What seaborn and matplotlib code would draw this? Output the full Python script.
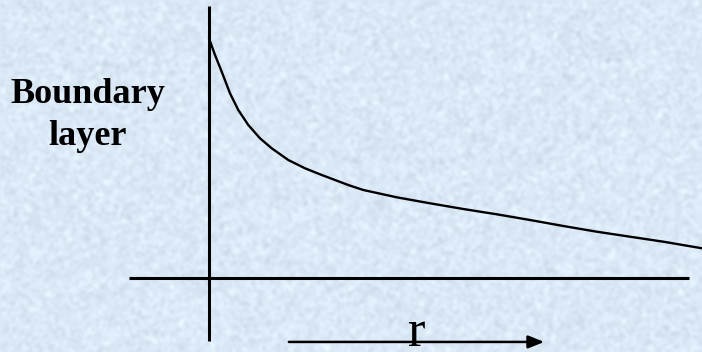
import numpy as np
import pandas as pd
import matplotlib
matplotlib.use("Agg")
import matplotlib.pyplot as plt
import seaborn as sns

# Boundary-layer thickness as a function of radius r (schematic units)
r_values = [0.000, 0.122, 0.258, 0.426, 0.594, 0.797, 1.034, 1.272, 1.609,
            1.947, 2.286, 2.556, 2.840, 3.130, 3.807, 4.483, 5.158, 5.836,
            6.511, 7.187, 7.864, 8.540, 9.215, 10.0]
thickness = [9.987, 9.291, 8.594, 7.693, 6.996, 6.370, 5.816, 5.398, 4.910,
             4.564, 4.285, 4.076, 3.855, 3.659, 3.354, 3.104, 2.866, 2.645,
             2.407, 2.157, 1.919, 1.710, 1.502, 1.227]
y_label = "Boundary\nlayer"
x_label = "r"

sns.set_theme(style="white")
plt.rcParams["font.family"] = ["Liberation Serif", "DejaVu Serif"]

bg = "#dbe9f7"
XL = (-4.239, 10.0)
YL = (-3.10, 11.585)
fig = plt.figure(figsize=(7.02, 3.52), dpi=100, facecolor=bg)
ax = fig.add_axes([0, 0, 1, 1])

# fine mottled paper-like backdrop
rng = np.random.default_rng(7)
noise = rng.normal(size=(352, 702))
k = np.ones(4) / 4
for _ in range(2):
    noise = np.apply_along_axis(lambda v: np.convolve(v, k, mode="same"), 0, noise)
    noise = np.apply_along_axis(lambda v: np.convolve(v, k, mode="same"), 1, noise)
noise = noise / noise.std()
base = np.array([219, 233, 247]) / 255.0
tex = np.clip(base[None, None, :] + 0.016 * noise[:, :, None], 0, 1)
ax.imshow(tex, extent=(*XL, *YL), aspect="auto",
          interpolation="bilinear", zorder=0)

# axes of the sketch
ax.plot([0, 0], [-2.64, 11.33], color="black", lw=2.2, zorder=2,
        solid_capstyle="butt")
ax.plot([-1.62, 9.74], [0, 0], color="black", lw=2.2, zorder=2,
        solid_capstyle="butt")

df = pd.DataFrame({"r": r_values, "delta": thickness})
sns.lineplot(data=df, x="r", y="delta", sort=False, color="black",
             linewidth=1.7, ax=ax, zorder=3)
ax.set_xlim(*XL)
ax.set_ylim(*YL)
ax.set_axis_off()

# direction arrow for r
ax.annotate("", xy=(6.80, -2.68), xytext=(1.62, -2.68),
            arrowprops=dict(arrowstyle="-|>,head_length=0.8,head_width=0.32",
                            color="black", lw=1.8, shrinkA=0, shrinkB=0),
            zorder=4)
ax.text(4.22, -2.86, x_label, ha="center", va="baseline", fontsize=38,
        color="black", zorder=5)

lines = y_label.split("\n")
ax.text(-2.46, 7.30, lines[0], ha="center", va="baseline", fontsize=26,
        fontweight="bold", color="black")
ax.text(-2.46, 5.52, lines[1], ha="center", va="baseline", fontsize=26,
        fontweight="bold", color="black")

fig.savefig("out.png", dpi=100, facecolor=bg)
